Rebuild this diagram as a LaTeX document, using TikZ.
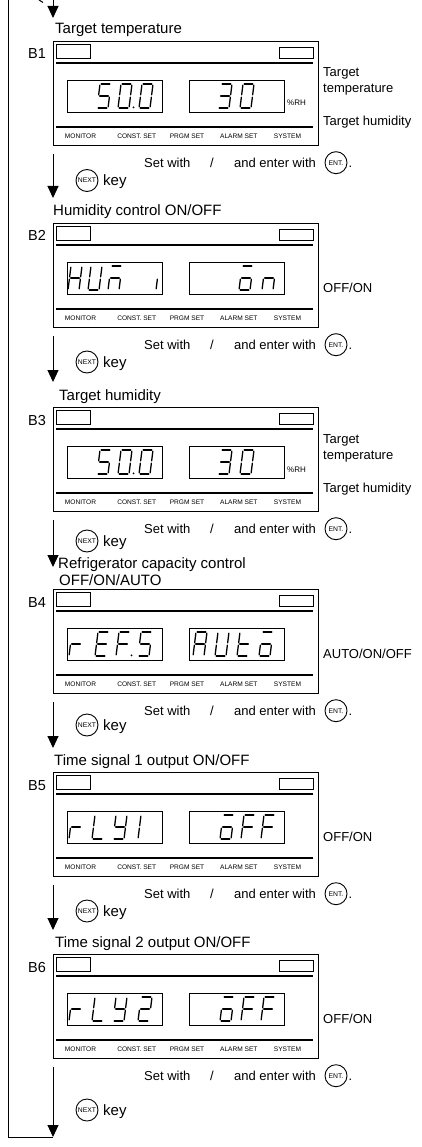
\documentclass[tikz,border=0pt]{standalone}
\usepackage{fontspec}
\setmainfont{Liberation Sans}
\usetikzlibrary{arrows.meta}
\tikzset{
  frame/.style={draw, line width=1.3pt, inner sep=0pt, minimum width=265pt, minimum height=104pt, anchor=north west},
  disp/.style={draw, line width=0.9pt, inner sep=0pt, minimum width=95pt, minimum height=32pt},
  thinrect/.style={line width=0.9pt},
  sepline/.style={line width=1.2pt},
  seg/.style={line width=1.3pt, line cap=round},
  flow/.style={line width=1pt, -{Triangle[width=11pt,length=12pt]}},
  loopline/.style={line width=1pt},
  ttl/.style={anchor=base west, inner sep=0pt, font=\fontsize{15}{17}\selectfont},
  lbl/.style={anchor=base west, inner sep=0pt, font=\fontsize{13}{15}\selectfont},
  blbl/.style={anchor=base, inner sep=0pt, font=\fontsize{14.5}{16}\selectfont},
  keytxt/.style={anchor=base west, inner sep=0pt, font=\fontsize{15}{17}\selectfont},
  tinylbl/.style={anchor=base, inner sep=0pt, font=\fontsize{6.6}{8}\selectfont},
  rh/.style={anchor=base west, inner sep=0pt, font=\fontsize{8}{9}\selectfont},
  keycirc/.style={draw, circle, line width=0.9pt, minimum size=22pt, inner sep=0pt, font=\fontsize{6.8}{7}\selectfont},
}
\newcommand{\dsega}{\draw[seg] (4.2,24) -- (12.8,24);}
\newcommand{\dsegb}{\draw[seg] (12.65,13.2) -- (13.85,22.8);}
\newcommand{\dsegc}{\draw[seg] (11.15,1.2) -- (12.35,10.8);}
\newcommand{\dsegd}{\draw[seg] (1.2,0) -- (9.8,0);}
\newcommand{\dsege}{\draw[seg] (0.15,1.2) -- (1.35,10.8);}
\newcommand{\dsegf}{\draw[seg] (1.65,13.2) -- (2.85,22.8);}
\newcommand{\dsegg}{\draw[seg] (2.7,12) -- (11.3,12);}
\newcommand{\dsegp}{\fill (15.5,0.6) circle (1);}
\newcommand{\sdig}[3]{\begin{scope}[shift={(#1,#2)},yscale=-1]\foreach \s in {#3}{\csname dseg\s\endcsname}\end{scope}}
\newcommand{\panel}[2]{%
  \node[frame] (box#2) at (53,#1) {};
  \draw[thinrect] (56,{#1+3}) rectangle (90,{#1+17});
  \draw[thinrect] (279,{#1+6}) rectangle (313,{#1+17});
  \draw[sepline] (56,{#1+22}) -- (313,{#1+22});
  \draw[sepline] (56,{#1+86}) -- (313,{#1+86});
  \node[disp] (dl#2) at (114.5,{#1+55}) {};
  \node[disp] (dr#2) at (236.5,{#1+55}) {};
  \node[blbl] (bl#2) at (37,{#1+18}) {B#2};
  \node[tinylbl] (mon#2) at (80.5,{#1+97.5}) {MONITOR};
  \node[tinylbl] (con#2) at (136.7,{#1+97.5}) {CONST. SET};
  \node[tinylbl] (prg#2) at (187,{#1+97.5}) {PRGM SET};
  \node[tinylbl] (alm#2) at (238.8,{#1+97.5}) {ALARM SET};
  \node[tinylbl] (sys#2) at (287.5,{#1+97.5}) {SYSTEM};
  \node[lbl] (set#2) at (144,{#1+126.5}) {Set with};
  \node[lbl, anchor=base] (sl#2) at (212,{#1+126.5}) {/};
  \node[lbl] (and#2) at (234,{#1+126.5}) {and enter with};
  \node[keycirc] (ent#2) at (336,{#1+121.7}) {ENT.};
  \node[lbl] (dot#2) at (348.5,{#1+126.5}) {.};
  \coordinate (s#2) at (53,{#1+113});
}
\newcommand{\nextkey}[2]{%
  \node[keycirc] (nx#2) at (87,#1) {NEXT};
  \node[keytxt] (key#2) at (103,{#1+5}) {key};
}
\newcommand{\tempside}[2]{%
  \node[rh] (rh#2) at (287,{#1+65}) {\%RH};
  \node[lbl] (tt#2a) at (323,{#1+36}) {Target};
  \node[lbl] (tt#2b) at (323,{#1+52}) {temperature};
  \node[lbl] (th#2) at (323,{#1+85}) {Target humidity};
  \sdig{97}{#1+67}{a,f,g,c,d}
  \sdig{118}{#1+67}{a,b,c,d,e,f,p}
  \sdig{139}{#1+67}{a,b,c,d,e,f}
  \sdig{218}{#1+67}{a,b,g,c,d}
  \sdig{240}{#1+67}{a,b,c,d,e,f}
}
\begin{document}
\begin{tikzpicture}[x=1pt,y=-1pt]
\useasboundingbox (0,0) rectangle (421,1147);
\fill[white] (0,0) rectangle (421,1147);
% loop line and top arrow
\coordinate (lt) at (8,0);
\coordinate (top) at (53,0);
\coordinate (t1) at (53,18);
\coordinate (t2) at (53,198);
\coordinate (t3) at (53,382);
\coordinate (t4) at (53,567);
\coordinate (t5) at (53,748);
\coordinate (t6) at (53,930);
\coordinate (fin) at (53,1137);
\coordinate (m1) at (39,0);
\coordinate (m2) at (43,2.5);
\draw[loopline] (m1) -- (m2);
\draw[loopline] (lt) |- (fin);
\draw[flow] (top) -- (t1);
% titles
\node[ttl] (ttl1) at (55,33.5) {Target temperature};
\node[ttl] (ttl2) at (53,216) {Humidity control ON/OFF};
\node[ttl] (ttl3) at (59,400) {Target humidity};
\node[ttl] (ttl4a) at (58,568) {Refrigerator capacity control};
\node[ttl] (ttl4b) at (59,585) {OFF/ON/AUTO};
\node[ttl] (ttl5) at (54,765) {Time signal 1 output ON/OFF};
\node[ttl] (ttl6) at (55,947) {Time signal 2 output ON/OFF};
% panels
\panel{41}{1}
\tempside{41}{1}
\nextkey{180.5}{1}
\panel{223}{2}
\node[lbl] (oo2) at (323,{223+69.5}) {OFF/ON};
\sdig{68}{290}{f,e,g,b,c}
\sdig{88}{290}{f,e,d,c,b}
\sdig{108}{290}{a,e,g,c}
\sdig{145}{290}{c}
\sdig{239}{290}{a,c,d,e,g}
\sdig{262}{290}{c,e,g}
\nextkey{362}{2}
\panel{407}{3}
\tempside{407}{3}
\nextkey{541}{3}
\panel{589}{4}
\node[lbl] (oo4) at (323,{589+69.5}) {AUTO/ON/OFF};
\sdig{69}{656}{e,g}
\sdig{95}{656}{a,f,g,e,d}
\sdig{116}{656}{a,f,g,e,p}
\sdig{138}{656}{a,f,g,c,d}
\sdig{193}{656}{a,b,c,e,f,g}
\sdig{215}{656}{f,e,d,c,b}
\sdig{237}{656}{f,e,g,d}
\sdig{259}{656}{a,c,d,e,g}
\nextkey{725}{4}
\panel{772}{5}
\node[lbl] (oo5) at (323,{772+69.5}) {OFF/ON};
\sdig{69}{839}{e,g}
\sdig{92}{839}{f,e,d}
\sdig{113}{839}{f,b,g,c,d}
\sdig{138}{839}{e,f}
\sdig{220}{839}{a,c,d,e,g}
\sdig{241}{839}{a,f,g,e}
\sdig{261}{839}{a,f,g,e}
\nextkey{911}{5}
\panel{954}{6}
\node[lbl] (oo6) at (323,{954+69.5}) {OFF/ON};
\sdig{69}{1021}{e,g}
\sdig{92}{1021}{f,e,d}
\sdig{113}{1021}{f,b,g,c,d}
\sdig{138}{1021}{a,b,g,e,d}
\sdig{220}{1021}{a,c,d,e,g}
\sdig{241}{1021}{a,f,g,e}
\sdig{261}{1021}{a,f,g,e}
\nextkey{1110}{6}
% flow arrows
\draw[flow] (s1) -- (t2);
\draw[flow] (s2) -- (t3);
\draw[flow] (s3) -- (t4);
\draw[flow] (s4) -- (t5);
\draw[flow] (s5) -- (t6);
\draw[flow] (s6) -- (fin);
\end{tikzpicture}
\end{document}
